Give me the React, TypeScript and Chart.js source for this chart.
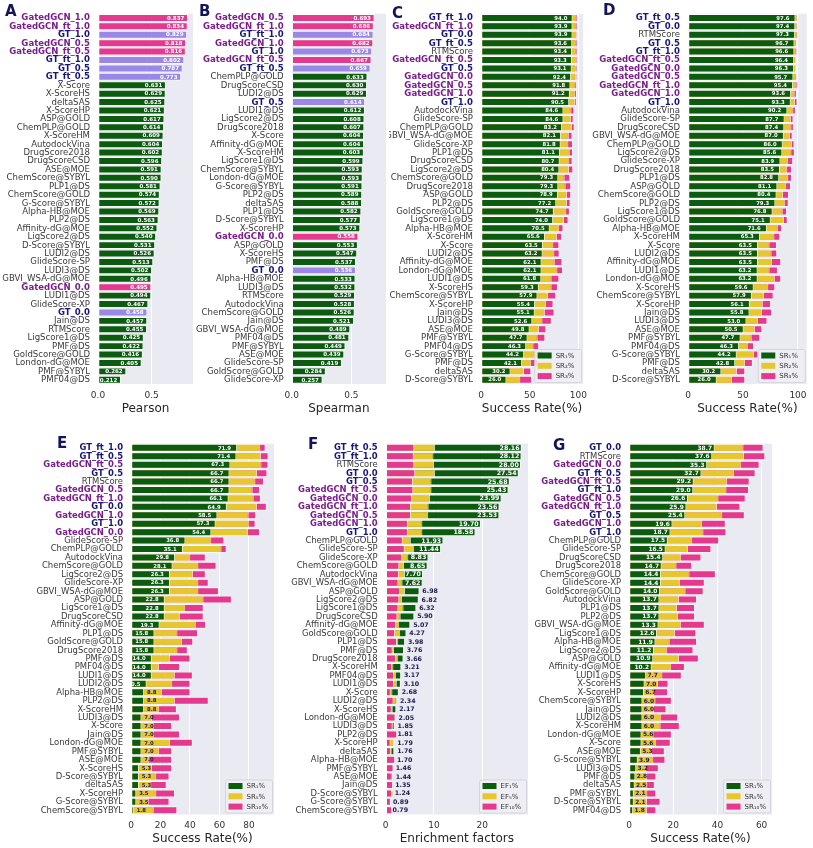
import React, { useEffect, useRef } from "react";
import { Chart, registerables } from "chart.js";
Chart.register(...registerables);

const GREEN = "#0c5c10";
const YELLOW = "#e6c72e";
const PINK = "#e5398e";
const LAVENDER = "#9a88e6";
const BG = "#eaeaf2";
const FONT = "'DejaVu Sans', 'Liberation Sans', sans-serif";
const LABEL_FONT = "'Liberation Sans Narrow', 'DejaVu Sans Condensed', 'DejaVu Sans', sans-serif";

// ---------- Panel A : Pearson ----------
const A_labels = ["GatedGCN_1.0","GatedGCN_ft_1.0","GT_1.0","GatedGCN_0.5","GatedGCN_ft_0.5","GT_ft_1.0","GT_0.5","GT_ft_0.5","X-Score","X-ScoreHS","deltaSAS","X-ScoreHP","ASP@GOLD","ChemPLP@GOLD","X-ScoreHM","AutodockVina","DrugScore2018","DrugScoreCSD","ASE@MOE","ChemScore@SYBYL","PLP1@DS","ChemScore@GOLD","G-Score@SYBYL","Alpha-HB@MOE","PLP2@DS","Affinity-dG@MOE","LigScore2@DS","D-Score@SYBYL","LUDI2@DS","GlideScore-SP","LUDI3@DS","GBVI_WSA-dG@MOE","GatedGCN_0.0","LUDI1@DS","GlideScore-XP","GT_0.0","Jain@DS","RTMScore","LigScore1@DS","PMF@DS","GoldScore@GOLD","London-dG@MOE","PMF@SYBYL","PMF04@DS"];
const A_pearson = [0.837,0.834,0.829,0.818,0.816,0.802,0.787,0.773,0.631,0.629,0.625,0.621,0.617,0.614,0.609,0.604,0.602,0.596,0.591,0.590,0.581,0.574,0.572,0.569,0.563,0.552,0.540,0.531,0.526,0.513,0.502,0.496,0.495,0.494,0.467,0.458,0.457,0.455,0.425,0.422,0.416,0.405,0.262,0.212];

// ---------- Panel B : Spearman ----------
const B_labels = ["GatedGCN_0.5","GatedGCN_ft_1.0","GT_ft_1.0","GatedGCN_1.0","GT_1.0","GatedGCN_ft_0.5","GT_ft_0.5","ChemPLP@GOLD","DrugScoreCSD","LUDI2@DS","GT_0.5","LUDI1@DS","LigScore2@DS","DrugScore2018","X-Score","Affinity-dG@MOE","X-ScoreHM","LigScore1@DS","ChemScore@SYBYL","London-dG@MOE","G-Score@SYBYL","PLP2@DS","deltaSAS","PLP1@DS","D-Score@SYBYL","X-ScoreHP","GatedGCN_0.0","ASP@GOLD","X-ScoreHS","PMF@DS","GT_0.0","Alpha-HB@MOE","LUDI3@DS","RTMScore","AutodockVina","ChemScore@GOLD","Jain@DS","GBVI_WSA-dG@MOE","PMF04@DS","PMF@SYBYL","ASE@MOE","GlideScore-SP","GoldScore@GOLD","GlideScore-XP"];
const B_spearman = [0.693,0.686,0.684,0.682,0.673,0.667,0.659,0.633,0.630,0.629,0.614,0.612,0.608,0.607,0.604,0.604,0.603,0.599,0.593,0.593,0.591,0.589,0.588,0.582,0.577,0.573,0.558,0.553,0.547,0.537,0.536,0.533,0.532,0.529,0.528,0.526,0.521,0.489,0.481,0.449,0.439,0.419,0.284,0.257];

// ---------- Panel C : docking success rate ----------
const C_labels = ["GT_ft_1.0","GatedGCN_ft_1.0","GT_0.0","GT_ft_0.5","RTMScore","GatedGCN_ft_0.5","GT_0.5","GatedGCN_0.0","GatedGCN_0.5","GatedGCN_1.0","GT_1.0","AutodockVina","GlideScore-SP","ChemPLP@GOLD","GBVI_WSA-dG@MOE","GlideScore-XP","PLP1@DS","DrugScoreCSD","LigScore2@DS","ChemScore@GOLD","DrugScore2018","ASP@GOLD","PLP2@DS","GoldScore@GOLD","LigScore1@DS","Alpha-HB@MOE","X-ScoreHM","X-Score","LUDI2@DS","Affinity-dG@MOE","London-dG@MOE","LUDI1@DS","X-ScoreHS","ChemScore@SYBYL","X-ScoreHP","Jain@DS","LUDI3@DS","ASE@MOE","PMF@SYBYL","PMF04@DS","G-Score@SYBYL","PMF@DS","deltaSAS","D-Score@SYBYL"];
const C_sr1 = [94.0,93.9,93.9,93.6,93.4,93.3,93.1,92.4,91.8,91.2,90.5,84.6,84.6,83.2,82.1,81.8,81.1,80.7,80.4,79.3,79.3,78.9,77.2,74.7,74.0,70.5,65.6,63.5,63.2,62.1,62.1,61.8,59.3,57.9,55.4,55.1,52.6,49.8,47.7,46.3,44.2,42.1,30.2,26.0];
const C_sr2 = [98.2,98.2,98.6,98.2,98.2,97.9,97.9,97.5,97.2,96.8,96.5,93.0,92.6,93.6,90.2,89.8,91.2,90.9,90.5,86.0,87.0,88.4,88.4,87.7,85.3,80.4,78.2,74.4,75.4,75.8,78.6,72.6,72.6,68.8,66.7,65.6,63.2,59.6,58.2,54.0,59.6,51.6,44.2,40.4];
const C_sr3 = [99.3,99.3,99.6,99.3,99.3,99.0,99.0,98.8,98.6,98.4,98.2,95.8,95.1,96.1,93.9,94.4,94.4,94.0,94.7,91.6,92.6,92.6,91.9,91.2,89.8,84.6,83.2,80.4,80.7,83.5,84.2,80.4,78.9,77.2,74.4,75.4,72.6,67.0,66.0,59.6,64.2,58.9,51.6,52.3];

// ---------- Panel D : docking success rate ----------
const D_labels = ["GT_ft_0.5","GT_0.0","RTMScore","GT_0.5","GT_ft_1.0","GatedGCN_ft_0.5","GatedGCN_0.0","GatedGCN_0.5","GatedGCN_ft_1.0","GatedGCN_1.0","GT_1.0","AutodockVina","GlideScore-SP","DrugScoreCSD","GBVI_WSA-dG@MOE","ChemPLP@GOLD","LigScore2@DS","GlideScore-XP","DrugScore2018","PLP1@DS","ASP@GOLD","ChemScore@GOLD","PLP2@DS","LigScore1@DS","GoldScore@GOLD","Alpha-HB@MOE","X-ScoreHM","X-Score","LUDI2@DS","Affinity-dG@MOE","LUDI1@DS","London-dG@MOE","X-ScoreHS","ChemScore@SYBYL","X-ScoreHP","Jain@DS","LUDI3@DS","ASE@MOE","PMF@SYBYL","PMF04@DS","G-Score@SYBYL","PMF@DS","deltaSAS","D-Score@SYBYL"];
const D_sr1 = [97.6,97.4,97.3,96.7,96.6,96.4,96.3,95.7,95.4,93.6,93.3,90.2,87.7,87.4,87.0,86.0,85.6,83.9,83.5,82.8,81.1,80.4,79.3,76.8,75.1,71.6,65.3,63.5,63.5,63.5,63.2,63.2,59.6,57.9,56.1,55.8,53.0,50.5,47.7,46.3,44.2,42.8,30.2,26.0];
const D_sr2 = [99.4,99.4,99.7,98.8,98.8,98.2,98.2,98.8,98.8,97.0,97.3,95.8,93.5,94.1,92.6,94.4,94.1,91.1,90.2,91.1,89.3,86.4,88.4,86.1,87.2,81.6,78.6,74.2,76.0,76.3,74.2,78.9,73.0,69.1,68.0,67.4,63.5,60.8,57.9,54.3,59.9,51.9,44.5,40.1];
const D_sr3 = [99.7,99.7,100.0,99.1,99.4,98.8,98.8,99.1,100.0,98.8,99.4,97.9,95.8,96.1,95.0,96.7,97.0,95.5,94.4,94.4,93.5,91.7,91.4,89.9,90.5,85.5,83.7,80.7,81.0,84.6,81.6,84.6,79.2,77.7,75.4,76.3,72.1,67.4,65.6,59.9,63.8,58.8,51.9,51.9];

// ---------- Panel E : screening success rate ----------
const E_labels = ["GT_ft_1.0","GT_ft_0.5","GatedGCN_ft_0.5","GT_0.5","RTMScore","GatedGCN_0.5","GatedGCN_ft_1.0","GT_0.0","GatedGCN_1.0","GT_1.0","GatedGCN_0.0","GlideScore-SP","ChemPLP@GOLD","AutodockVina","ChemScore@GOLD","LigScore2@DS","GlideScore-XP","GBVI_WSA-dG@MOE","ASP@GOLD","LigScore1@DS","DrugScoreCSD","Affinity-dG@MOE","PLP1@DS","GoldScore@GOLD","DrugScore2018","PMF@DS","PMF04@DS","LUDI1@DS","LUDI2@DS","Alpha-HB@MOE","PLP2@DS","X-ScoreHM","LUDI3@DS","X-Score","Jain@DS","London-dG@MOE","PMF@SYBYL","ASE@MOE","X-ScoreHS","D-Score@SYBYL","deltaSAS","X-ScoreHP","G-Score@SYBYL","ChemScore@SYBYL"];
const E_sr1 = [71.9,71.4,67.3,66.7,66.7,66.7,66.1,64.9,58.5,57.3,54.4,36.8,35.1,29.8,28.1,26.3,26.3,26.3,22.8,22.8,22.8,19.3,15.8,15.8,15.8,14.0,14.0,14.0,10.5,8.8,8.8,8.8,7.0,7.0,7.0,7.0,7.0,7.0,5.3,5.3,5.3,3.5,3.5,1.8];
const E_sr5 = [87.7,88.1,88.5,85.5,84.4,82.5,83.2,85.5,79.8,80.2,79.3,54.5,61.4,40.2,45.7,42.1,45.7,45.7,49.2,36.8,33.3,43.9,31.5,34.7,31.5,26.4,18.9,29.7,28.0,20.9,29.7,19.1,14.3,15.4,15.4,26.4,19.1,12.4,14.3,17.2,13.8,17.2,12.0,15.4];
const E_sr10 = [91.2,93.2,93.1,92.4,90.1,87.4,88.0,92.0,84.8,84.4,87.4,63.2,64.8,50.6,57.9,50.6,52.6,59.5,68.3,49.2,49.2,50.8,45.3,42.1,38.4,40.2,33.1,41.8,40.2,40.2,52.6,31.0,33.1,27.8,33.1,41.8,27.8,27.8,27.8,26.0,24.1,29.7,26.0,31.3];

// ---------- Panel F : enrichment factors ----------
const F_labels = ["GT_ft_0.5","GT_ft_1.0","RTMScore","GT_0.0","GT_0.5","GatedGCN_ft_0.5","GatedGCN_0.0","GatedGCN_ft_1.0","GatedGCN_0.5","GatedGCN_1.0","GT_1.0","ChemPLP@GOLD","GlideScore-SP","GlideScore-XP","ChemScore@GOLD","AutodockVina","GBVI_WSA-dG@MOE","ASP@GOLD","LigScore2@DS","LigScore1@DS","DrugScoreCSD","Affinity-dG@MOE","GoldScore@GOLD","PLP1@DS","PMF@DS","DrugScore2018","X-ScoreHM","PMF04@DS","LUDI1@DS","X-Score","LUDI2@DS","X-ScoreHS","London-dG@MOE","LUDI3@DS","PLP2@DS","X-ScoreHP","deltaSAS","Alpha-HB@MOE","PMF@SYBYL","ASE@MOE","Jain@DS","D-Score@SYBYL","G-Score@SYBYL","ChemScore@SYBYL"];
const F_ef1 = [28.16,28.12,28.00,27.54,25.68,25.43,23.99,23.56,23.53,19.70,18.58,11.93,11.44,8.83,8.65,7.70,7.62,6.98,6.82,6.32,5.90,5.07,4.27,3.98,3.76,3.66,3.21,3.17,3.10,2.68,2.34,2.17,2.05,1.85,1.81,1.79,1.76,1.70,1.46,1.44,1.35,1.24,0.89,0.79];
const F_ef5 = [10.2,9.9,10.0,10.2,9.5,9.5,9.2,8.9,8.8,7.6,7.6,5.2,5.9,4.7,3.8,4.0,3.5,4.0,3.4,3.7,3.1,2.8,3.0,2.6,1.7,2.5,1.6,2.1,2.3,1.4,2.2,1.45,1.9,1.6,1.4,1.72,1.24,1.5,1.2,1.1,1.2,1.59,0.8,0.9];
const F_ef10 = [5.9,5.8,5.9,6.1,5.6,5.7,5.4,5.2,5.2,4.6,4.6,3.5,3.9,3.4,2.8,2.7,2.6,3.0,2.8,2.6,2.4,2.1,1.9,2.3,1.4,2.1,1.3,1.7,1.7,1.0,1.6,1.2,2.0,1.4,2.35,0.97,1.03,1.93,1.6,1.24,1.5,1.31,1.03,1.31];

// ---------- Panel G : screening success rate ----------
const G_labels = ["GT_0.0","RTMScore","GatedGCN_0.0","GT_ft_0.5","GatedGCN_ft_0.5","GT_ft_1.0","GatedGCN_0.5","GatedGCN_ft_1.0","GT_0.5","GatedGCN_1.0","GT_1.0","ChemPLP@GOLD","GlideScore-SP","DrugScoreCSD","DrugScore2018","ChemScore@GOLD","GlideScore-XP","GoldScore@GOLD","AutodockVina","PLP1@DS","PLP2@DS","GBVI_WSA-dG@MOE","LigScore1@DS","Alpha-HB@MOE","LigScore2@DS","ASP@GOLD","Affinity-dG@MOE","LUDI1@DS","X-ScoreHS","X-ScoreHP","ChemScore@SYBYL","Jain@DS","LUDI2@DS","X-ScoreHM","London-dG@MOE","X-Score","ASE@MOE","G-Score@SYBYL","LUDI3@DS","PMF@DS","deltaSAS","PMF@SYBYL","D-Score@SYBYL","PMF04@DS"];
const G_sr1 = [38.7,37.6,35.3,32.7,29.2,29.0,26.6,25.9,25.4,19.6,18.7,17.5,16.5,15.4,14.7,14.4,14.4,14.0,13.7,13.7,13.7,13.3,12.6,11.9,11.2,10.9,10.2,7.7,7.0,6.7,6.0,6.0,6.0,6.0,5.6,5.6,5.3,3.9,3.2,2.8,2.5,2.1,2.1,1.8];
const G_sr5 = [51.8,52.0,50.8,47.4,44.4,44.1,40.5,39.8,42.2,33.1,33.7,28.6,26.7,23.6,21.5,27.4,23.0,25.6,22.6,21.7,22.1,23.6,20.8,18.4,17.3,22.6,19.1,15.1,13.1,11.3,12.0,11.3,14.6,14.3,11.1,12.3,10.4,11.0,7.8,8.1,8.3,8.3,8.1,8.1];
const G_sr10 = [60.8,61.6,59.0,57.2,54.5,54.2,52.7,50.3,52.3,43.7,44.0,40.7,37.2,32.7,28.5,39.2,34.2,33.7,30.7,29.8,29.8,34.2,30.4,30.7,29.1,31.5,25.2,23.8,17.8,17.6,19.3,16.9,22.1,22.9,19.3,18.8,16.1,16.4,13.4,12.3,11.6,12.3,14.2,12.3];

// ---------- tick values ----------
const corrTicks = [0, 0.5];
const dockTicks = [0, 50, 100];
const E_ticks = [0, 20, 40, 60, 80];
const F_ticks = [0, 10, 20];
const G_ticks = [0, 20, 40, 60];

const SR_DOCK_LEGEND = ["SR\u2081%", "SR\u2082%", "SR\u2083%"];
const SR_SCREEN_LEGEND = ["SR\u2081%", "SR\u2085%", "SR\u2081\u2080%"];
const EF_LEGEND = ["EF\u2081%", "EF\u2085%", "EF\u2081\u2080%"];

const labelColor = (l: string) =>
  l.startsWith("GatedGCN") ? "#7b1d8e" : l.startsWith("GT_") ? "#17177a" : "#3a3a3a";
const barColor = (l: string) =>
  l.startsWith("GatedGCN") ? PINK : l.startsWith("GT_") ? LAVENDER : GREEN;

type Panel = {
  key: string;
  letter: string;
  letterPos: [number, number];
  left: number; top: number; W: number; H: number;
  plotLeft: number; plotRight: number; plotTop: number; plotBottom: number;
  labels: string[];
  series: number[][];
  single: boolean;
  efOrder?: boolean;
  xmax: number;
  ticks: number[];
  tickDec: number;
  title: string;
  labelSize: number;
  valSize: number;
  valDec: number;
  whiteMin: number;
  inset: number;
  outset: number;
  legend?: string[];
};

const TOP = { top: 0, H: 420, plotTop: 2, plotBottom: 384 };
const BOT = { top: 430, H: 418, plotTop: 434.4, plotBottom: 814.5 };

const panels: Panel[] = [
  { key: "A", letter: "A", letterPos: [5, 4], left: 0, W: 196, plotLeft: 98, plotRight: 193, ...TOP,
    labels: A_labels, series: [A_pearson], single: true, xmax: 0.885, ticks: corrTicks, tickDec: 1,
    title: "Pearson", labelSize: 9.5, valSize: 5.5, valDec: 3, whiteMin: 0, inset: 3.5, outset: 2 },
  { key: "B", letter: "B", letterPos: [199, 4], left: 196, W: 193, plotLeft: 291.7, plotRight: 386, ...TOP,
    labels: B_labels, series: [B_spearman], single: true, xmax: 0.79, ticks: corrTicks, tickDec: 1,
    title: "Spearman", labelSize: 9.5, valSize: 5.5, valDec: 3, whiteMin: 0, inset: 3.5, outset: 2 },
  { key: "C", letter: "C", letterPos: [392, 6], left: 389, W: 204, plotLeft: 481, plotRight: 590, ...TOP,
    labels: C_labels, series: [C_sr1, C_sr2, C_sr3], single: false, xmax: 105, ticks: dockTicks, tickDec: 0,
    title: "Success Rate(%)", labelSize: 9.5, valSize: 5.3, valDec: 1, whiteMin: 0, inset: 5, outset: 2,
    legend: SR_DOCK_LEGEND },
  { key: "D", letter: "D", letterPos: [603, 3], left: 575, W: 238, plotLeft: 688, plotRight: 807, ...TOP,
    labels: D_labels, series: [D_sr1, D_sr2, D_sr3], single: false, xmax: 108, ticks: dockTicks, tickDec: 0,
    title: "Success Rate(%)", labelSize: 9.5, valSize: 5.3, valDec: 1, whiteMin: 0, inset: 6, outset: 2,
    legend: SR_DOCK_LEGEND },
  { key: "E", letter: "E", letterPos: [57, 436], left: 0, W: 277, plotLeft: 131, plotRight: 274, ...BOT,
    labels: E_labels, series: [E_sr1, E_sr5, E_sr10], single: false, xmax: 97, ticks: E_ticks, tickDec: 0,
    title: "Success Rate(%)", labelSize: 9.4, valSize: 5.3, valDec: 1, whiteMin: 10, inset: 6, outset: 3,
    legend: SR_SCREEN_LEGEND },
  { key: "F", letter: "F", letterPos: [308, 437], left: 277, W: 254, plotLeft: 385.7, plotRight: 528, ...BOT,
    labels: F_labels, series: [F_ef1, F_ef5, F_ef10], single: false, efOrder: true, xmax: 29.5, ticks: F_ticks, tickDec: 0,
    title: "Enrichment factors", labelSize: 9.4, valSize: 6.3, valDec: 2, whiteMin: 7.5, inset: 2, outset: 3,
    legend: EF_LEGEND },
  { key: "G", letter: "G", letterPos: [553, 438], left: 531, W: 282, plotLeft: 629, plotRight: 772, ...BOT,
    labels: G_labels, series: [G_sr1, G_sr5, G_sr10], single: false, xmax: 64.7, ticks: G_ticks, tickDec: 0,
    title: "Success Rate(%)", labelSize: 9.4, valSize: 5.9, valDec: 1, whiteMin: 10, inset: 2.5, outset: 1.5,
    legend: SR_SCREEN_LEGEND },
];

function buildConfig(p: Panel): any {
  const yAxisWidth = p.plotLeft - p.left;
  const xAxisHeight = p.top + p.H - p.plotBottom;
  const padTop = p.plotTop - p.top;
  const padRight = p.left + p.W - p.plotRight;
  const common = { borderColor: "#ffffff", borderWidth: 0.8, borderSkipped: false, barPercentage: 0.9, categoryPercentage: 1, grouped: false };
  let datasets: any[];
  if (p.single) {
    datasets = [{ ...common, data: p.series[0], backgroundColor: p.labels.map(barColor) }];
  } else {
    const cols = [GREEN, YELLOW, PINK];
    datasets = p.series.map((s, i) => ({
      ...common,
      data: s,
      backgroundColor: cols[i],
      order: p.efOrder ? 3 - i : i + 1,
    }));
  }

  const bgPlugin = {
    id: "panelBg" + p.key,
    beforeDraw(chart: any) {
      const { ctx, chartArea: a } = chart;
      ctx.save();
      ctx.fillStyle = BG;
      ctx.fillRect(a.left, a.top, a.right - a.left, a.bottom - a.top);
      ctx.restore();
    },
  };

  const valuePlugin = {
    id: "values" + p.key,
    afterDatasetsDraw(chart: any) {
      const meta = chart.getDatasetMeta(0);
      const data = p.series[0];
      const ctx = chart.ctx;
      ctx.save();
      ctx.font = `bold ${p.valSize}px ${FONT}`;
      ctx.textBaseline = "middle";
      meta.data.forEach((el: any, i: number) => {
        const v = data[i];
        const txt = v.toFixed(p.valDec);
        if (v >= p.whiteMin) {
          ctx.fillStyle = "#ffffff";
          ctx.textAlign = "right";
          ctx.fillText(txt, el.x - p.inset, el.y + 0.3);
        } else {
          ctx.fillStyle = "#1c1c4e";
          ctx.textAlign = "left";
          ctx.fillText(txt, el.x + p.outset, el.y + 0.3);
        }
      });
      ctx.restore();
    },
  };

  const legendPlugin = {
    id: "legend" + p.key,
    afterDraw(chart: any) {
      if (!p.legend) return;
      const { ctx, chartArea: a } = chart;
      const w = 47, h = 33;
      const x = a.right - w - 1.5, y = a.bottom - h - 1.5;
      ctx.save();
      ctx.beginPath();
      const r = 2;
      ctx.moveTo(x + r, y);
      ctx.lineTo(x + w - r, y);
      ctx.quadraticCurveTo(x + w, y, x + w, y + r);
      ctx.lineTo(x + w, y + h - r);
      ctx.quadraticCurveTo(x + w, y + h, x + w - r, y + h);
      ctx.lineTo(x + r, y + h);
      ctx.quadraticCurveTo(x, y + h, x, y + h - r);
      ctx.lineTo(x, y + r);
      ctx.quadraticCurveTo(x, y, x + r, y);
      ctx.closePath();
      ctx.fillStyle = "rgba(238,238,245,0.85)";
      ctx.fill();
      ctx.strokeStyle = "#cfcfd8";
      ctx.lineWidth = 0.8;
      ctx.stroke();
      const cols = [GREEN, YELLOW, PINK];
      p.legend.forEach((t, i) => {
        const cy = y + 6 + i * 10.3;
        ctx.fillStyle = cols[i];
        ctx.fillRect(x + 3, cy - 3, 14, 6);
        ctx.fillStyle = "#333333";
        ctx.font = `7px ${FONT}`;
        ctx.textAlign = "left";
        ctx.textBaseline = "middle";
        ctx.fillText(t, x + 21, cy + 0.5);
      });
      ctx.restore();
    },
  };

  return {
    type: "bar",
    data: { labels: p.labels, datasets },
    options: {
      indexAxis: "y",
      animation: false,
      responsive: false,
      devicePixelRatio: 1,
      layout: { padding: { top: padTop, right: padRight, bottom: 0, left: 0 } },
      plugins: { legend: { display: false }, tooltip: { enabled: false }, title: { display: false } },
      scales: {
        x: {
          type: "linear",
          min: 0,
          max: p.xmax,
          grid: { color: "#ffffff", lineWidth: 1, drawTicks: false },
          border: { display: false },
          afterBuildTicks: (s: any) => { s.ticks = p.ticks.map((v) => ({ value: v })); },
          afterFit: (s: any) => { s.height = xAxisHeight; },
          ticks: {
            color: "#333333",
            font: { family: FONT, size: 9 },
            padding: 6,
            maxRotation: 0,
            minRotation: 0,
            autoSkip: false,
            callback: (v: any) => Number(v).toFixed(p.tickDec),
          },
          title: {
            display: true,
            text: p.title,
            color: "#262626",
            font: { family: FONT, size: 12 },
            padding: { top: 0, bottom: p.top === 0 ? 3.5 : 1.8 },
          },
        },
        y: {
          type: "category",
          grid: { display: false, drawTicks: false },
          border: { display: false },
          afterFit: (s: any) => { s.width = yAxisWidth; },
          ticks: {
            autoSkip: false,
            padding: 8,
            color: (c: any) => labelColor(p.labels[c.index] || ""),
            font: (c: any) => {
              const l = p.labels[c.index] || "";
              const bold = l.startsWith("GT_") || l.startsWith("GatedGCN");
              return { family: LABEL_FONT, size: p.labelSize, weight: bold ? "bold" : "normal" };
            },
          },
        },
      },
    },
    plugins: [bgPlugin, valuePlugin, legendPlugin],
  };
}

function ChartPanel({ p }: { p: Panel }) {
  const ref = useRef<HTMLCanvasElement>(null);
  useEffect(() => {
    if (!ref.current) return;
    const chart = new Chart(ref.current, buildConfig(p));
    return () => chart.destroy();
  }, [p]);
  return (
    <canvas
      ref={ref}
      width={p.W}
      height={p.H}
      style={{ position: "absolute", left: p.left, top: p.top, width: p.W, height: p.H }}
    />
  );
}

export default function App() {
  return (
    <div
      style={{
        position: "fixed",
        left: 0,
        top: 0,
        width: 813,
        height: 848,
        background: "#ffffff",
        overflow: "hidden",
      }}
    >
      {panels.map((p) => (
        <ChartPanel key={p.key} p={p} />
      ))}
      {panels.map((p) => (
        <div
          key={"L" + p.key}
          style={{
            position: "absolute",
            left: p.letterPos[0],
            top: p.letterPos[1],
            fontFamily: FONT,
            fontWeight: "bold",
            fontSize: 15,
            lineHeight: "15px",
            color: "#14145a",
          }}
        >
          {p.letter}
        </div>
      ))}
    </div>
  );
}
